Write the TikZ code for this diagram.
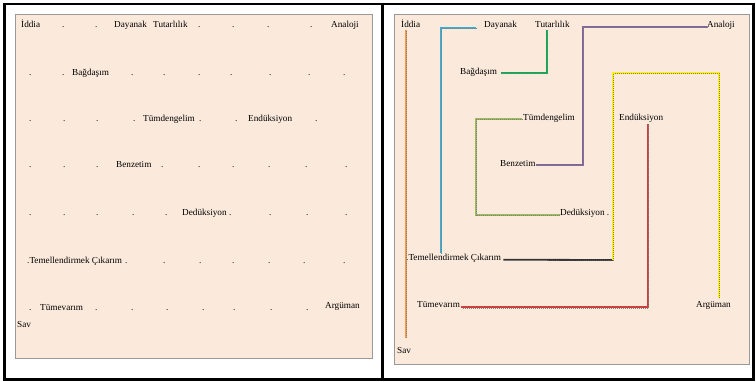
\documentclass[tikz,border=0pt]{standalone}
\usepackage{fontspec}
\setmainfont{Liberation Serif}
\definecolor{beige}{HTML}{FBEADC}
\definecolor{orangeC}{HTML}{F79646}
\definecolor{cyanC}{HTML}{3BAED4}
\definecolor{greenC}{HTML}{00B050}
\definecolor{purpC}{HTML}{8064A2}
\definecolor{yellC}{HTML}{FFF200}
\definecolor{oliveC}{HTML}{9BBB59}
\definecolor{redC}{HTML}{C9413F}
\definecolor{darkC}{HTML}{333333}
\begin{document}
\begin{tikzpicture}[x=1pt,y=-1pt,
  txt/.style={font=\fontsize{9.2}{10}\selectfont, inner sep=0pt, anchor=base west, text=black, text height=6.5pt, text depth=2pt},
  lnk/.style={line width=1.8pt, draw=#1, postaction={draw=black!50, line width=0.45pt, dash pattern=on 0.8pt off 1.2pt, transform canvas={shift={(0.5pt,-0.6pt)}}}},
  panel/.style={fill=beige, draw=black!40, line width=0.8pt}]
\useasboundingbox (0,0) rectangle (756,382);
% frame
\draw[line width=2.5pt] (4.5,4) rectangle (753.5,379.5);
\draw[line width=2.5pt] (382.5,4) -- (382.5,379.5);
\draw[panel] (15,14) rectangle (372,358);
\draw[panel] (394,14) rectangle (749,364);

% ---------- left panel ----------
\node[txt] (liddia) at (21,28) {İddia};
\node[txt] (lday) at (114,28) {Dayanak};
\node[txt] (ltut) at (153,28) {Tutarlılık};
\node[txt] (lanal) at (331,28) {Analoji};
\foreach \x [count=\i] in {62,95,198,232,267,310} \node[txt] (la\i) at (\x,28) {.};
\node[txt] (lbag) at (72,76) {Bağdaşım};
\foreach \x [count=\i] in {29,62,131,163,198,230,269,308,343} \node[txt] (lb\i) at (\x,76) {.};
\node[txt] (ltumd) at (143,122) {Tümdengelim};
\node[txt] (lend) at (248,122) {Endüksiyon};
\foreach \x [count=\i] in {29,63,96,133,199,235,315} \node[txt] (lc\i) at (\x,122) {.};
\node[txt] (lbenz) at (116,168) {Benzetim};
\foreach \x [count=\i] in {29,63,96,161,198,232,268,305,345} \node[txt] (ld\i) at (\x,168) {.};
\node[txt] (lded) at (182,216) {Dedüksiyon};
\foreach \x [count=\i] in {29,63,96,132,165,229,269,306,345} \node[txt] (le\i) at (\x,216) {.};
\node[txt] (ltem) at (27,264) {.Temellendirmek Çıkarım};
\foreach \x [count=\i] in {125,163,199,232,268,303,343} \node[txt] (lf\i) at (\x,264) {.};
\node[txt] (ltumev) at (40,311) {Tümevarım};
\node[txt] (larg) at (325,309) {Argüman};
\foreach \x [count=\i] in {29,95,131,166,202,233,270,306} \node[txt] (lg\i) at (\x,311) {.};
\node[txt] (lsav) at (17,328) {Sav};

% ---------- right panel ----------
\node[txt] (riddia) at (401,28) {İddia};
\node[txt] (rday) at (484,28) {Dayanak};
\node[txt] (rtut) at (535,28) {Tutarlılık};
\node[txt] (ranal) at (707,28) {Analoji};
\node[txt] (rbag) at (460,75) {Bağdaşım};
\node[txt] (rtumd) at (523,121) {Tümdengelim};
\node[txt] (rend) at (619,121) {Endüksiyon};
\node[txt] (rbenz) at (500,167) {Benzetim};
\node[txt] (rded) at (560,216) {Dedüksiyon .};
\node[txt] (rtem) at (406,261) {.Temellendirmek Çıkarım};
\node[txt] (rtumev) at (417,308) {Tümevarım};
\node[txt] (rarg) at (696,308) {Argüman};
\node[txt] (rsav) at (397,354) {Sav};

\coordinate (oEnd) at (406,338);
\coordinate (cEnd) at (441,253);
\coordinate (ys) at (613,260);
\coordinate (yTop) at (719,73);
\coordinate (yEnd) at (719,298);

\draw[lnk=orangeC] ([xshift=5pt]riddia.south west) -- (oEnd);
\draw[lnk=cyanC] ([xshift=-8pt,yshift=-2pt]rday.west) -| (cEnd);
\draw[lnk=greenC] ([xshift=12pt]rtut.south west) |- ([xshift=4pt]rbag.east);
\draw[lnk=purpC] ([yshift=-1pt]ranal.west) -| ([xshift=47pt]rbenz.east) -- (rbenz.east);
\draw[lnk=oliveC] ([xshift=-1pt]rtumd.west) -| ([xshift=-84pt,yshift=-1pt]rded.west) -- ([yshift=-1pt]rded.west);
\draw[lnk=redC] ([xshift=29pt,yshift=-1pt]rend.south west) |- ([xshift=1pt,yshift=-1.5pt]rtumev.east);
\draw[lnk=darkC] ([xshift=2pt,yshift=-1pt]rtem.east) -- (ys);
\draw[lnk=yellC] (ys) |- (yTop) -- (yEnd);
\end{tikzpicture}
\end{document}
